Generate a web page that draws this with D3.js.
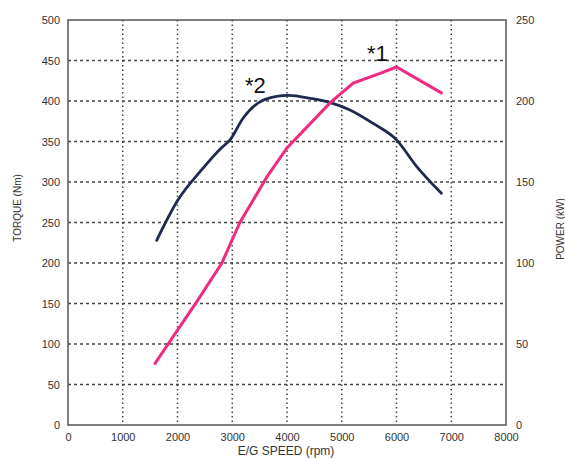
<!DOCTYPE html>
<html>
<head>
<meta charset="utf-8">
<script src="https://cdn.jsdelivr.net/npm/d3@7"></script>
<style>
body { margin: 0; background: #fff; }
svg { display: block; font-family: "Liberation Sans", Arial, sans-serif; }
</style>
</head>
<body>
<svg id="chart" width="565" height="459"></svg>
<script>
const rpmTicks = [0, 1000, 2000, 3000, 4000, 5000, 6000, 7000, 8000];
const torqueTicks = [0, 50, 100, 150, 200, 250, 300, 350, 400, 450, 500];
const powerTicks = [0, 50, 100, 150, 200, 250];

const torqueRpm = [1620, 2010, 2440, 2800, 2960, 3200, 3600, 4020, 4450, 4790, 5150, 5580, 6000, 6370, 6820];
const torqueVal = [228, 278, 315, 342, 352, 379, 402, 407, 403, 398, 389, 372, 352, 319, 286];

const powerRpm = [1590, 2050, 2350, 2810, 3140, 3630, 4000, 4790, 5210, 5700, 6000, 6820];
const powerVal = [38, 61, 76, 100, 125, 153, 171, 199, 211, 217, 221, 205];

const chart = d3.select("#chart");
const plotLeft = 68, plotRight = 506, plotTop = 20, plotBottom = 425;
const gridColor = "#444";

const x = d3.scaleLinear().domain([0, 8000]).range([plotLeft, plotRight]);
const yT = d3.scaleLinear().domain([0, 500]).range([plotBottom, plotTop]);
const yP = d3.scaleLinear().domain([0, 250]).range([plotBottom, plotTop]);

// grid
const grid = chart.append("g");
grid.selectAll("line.h")
    .data(torqueTicks.filter(d => d > 0 && d < 500))
    .enter().append("line")
    .attr("x1", plotLeft).attr("x2", plotRight)
    .attr("y1", d => yT(d)).attr("y2", d => yT(d))
    .attr("stroke", gridColor)
    .attr("stroke-width", 1.3)
    .attr("stroke-dasharray", "3,3");
grid.selectAll("line.v")
    .data(rpmTicks.filter(d => d > 0 && d < 8000))
    .enter().append("line")
    .attr("x1", d => x(d)).attr("x2", d => x(d))
    .attr("y1", plotTop).attr("y2", plotBottom)
    .attr("stroke", gridColor)
    .attr("stroke-width", 1.5)
    .attr("stroke-dasharray", "1.5,3");

// frame
chart.append("rect")
    .attr("x", plotLeft).attr("y", plotTop)
    .attr("width", plotRight - plotLeft).attr("height", plotBottom - plotTop)
    .attr("fill", "none")
    .attr("stroke", "#555")
    .attr("stroke-width", 1.5);

// axes
const fmt = d3.format("d");
const axL = d3.axisLeft(yT).tickValues(torqueTicks).tickFormat(fmt).tickSize(0).tickPadding(8);
const axR = d3.axisRight(yP).tickValues(powerTicks).tickFormat(fmt).tickSize(0).tickPadding(10);
const axB = d3.axisBottom(x).tickValues(rpmTicks).tickFormat(fmt).tickSize(0).tickPadding(8);

[[axL, `translate(${plotLeft},0)`], [axR, `translate(${plotRight},0)`], [axB, `translate(0,${plotBottom})`]]
    .forEach(([ax, tr]) => {
        const g = chart.append("g").attr("transform", tr).call(ax);
        g.select(".domain").remove();
        g.selectAll("text")
            .attr("font-size", "11px")
            .attr("fill", "#333")
            .attr("font-family", "Liberation Sans, Arial, sans-serif");
    });

// axis titles
chart.append("text")
    .text("TORQUE (Nm)")
    .attr("transform", "translate(21,208) rotate(-90)")
    .attr("text-anchor", "middle")
    .attr("font-size", "10px")
    .attr("fill", "#333");
chart.append("text")
    .text("POWER (kW)")
    .attr("transform", "translate(564,229) rotate(-90)")
    .attr("text-anchor", "middle")
    .attr("font-size", "10px")
    .attr("fill", "#333");
chart.append("text")
    .text("E/G  SPEED (rpm)")
    .attr("x", 286).attr("y", 455)
    .attr("text-anchor", "middle")
    .attr("font-size", "12px")
    .attr("fill", "#333");

// curves
const lineT = d3.line().x((d, i) => x(torqueRpm[i])).y(d => yT(d)).curve(d3.curveMonotoneX);
const lineP = d3.line().x((d, i) => x(powerRpm[i])).y(d => yP(d)).curve(d3.curveLinear);

chart.append("path")
    .attr("d", lineT(torqueVal))
    .attr("fill", "none")
    .attr("stroke", "#1e2b4e")
    .attr("stroke-width", 2.8)
    .attr("stroke-linecap", "round");
chart.append("path")
    .attr("d", lineP(powerVal))
    .attr("fill", "none")
    .attr("stroke", "#f02a80")
    .attr("stroke-width", 3)
    .attr("stroke-linecap", "round");

// markers
chart.append("text").text("*1")
    .attr("x", 367).attr("y", 61)
    .attr("font-size", "22px")
    .attr("fill", "#111");
chart.append("text").text("*2")
    .attr("x", 245).attr("y", 93)
    .attr("font-size", "22px")
    .attr("fill", "#111");
</script>
</body>
</html>
